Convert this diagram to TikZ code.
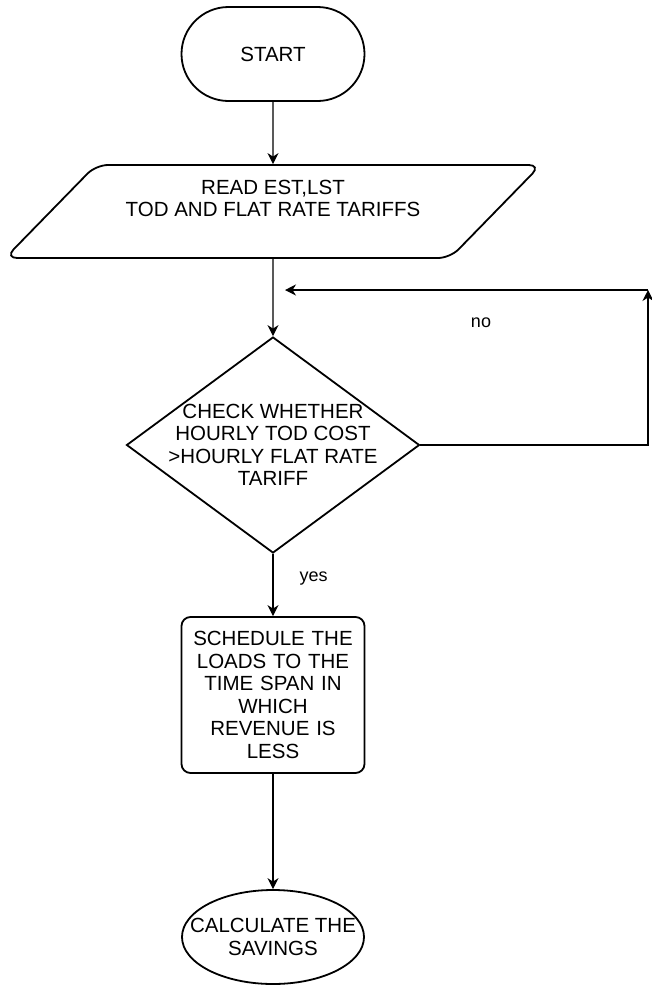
\documentclass[tikz,border=0pt]{standalone}
\usepackage{fontspec}
\setmainfont{Liberation Sans}
\usetikzlibrary{shapes.geometric,arrows.meta}

\tikzset{
  txt/.style={font=\fontsize{20.5}{22.5}\selectfont, align=center, inner sep=0pt},
  box/.style={draw, line width=1.8pt, txt},
  terminal/.style={box, rounded corners=47pt, minimum width=183pt, minimum height=94pt},
  io/.style={box, trapezium, trapezium left angle=40, trapezium right angle=140,
    trapezium stretches=true, minimum width=536pt, minimum height=93pt, rounded corners=12pt},
  decision/.style={box, diamond, minimum width=293pt, minimum height=216pt},
  process/.style={box, rounded corners=9pt, minimum width=183pt, minimum height=156pt, text width=180pt},
  stopper/.style={box, ellipse, minimum width=182pt, minimum height=94pt},
  arr/.style={line width=1.2pt, -{Stealth[length=11pt,width=11pt,inset=3.5pt]}}
}

\begin{document}
\begin{tikzpicture}[x=1pt,y=-1pt]
\useasboundingbox (0,0) rectangle (652,986);
% flow chart boxes
\node[terminal] (start) at (273,54) {START};
\node[io] (read) at (273,211.5) {READ EST,LST\\TOD AND FLAT RATE TARIFFS\\[4pt]};
\node[decision, label={[txt, name=checktxt]center:CHECK WHETHER\\HOURLY TOD COST\\>HOURLY FLAT RATE\\TARIFF}] (check) at (273,445) {};
\node[process] (sched) at (273,695) {SCHEDULE THE\\LOADS TO THE\\TIME SPAN IN\\WHICH\\REVENUE IS\\LESS};
\node[stopper, label={[txt, name=calctxt]center:CALCULATE THE\\SAVINGS}] (calc) at (273,937) {};
% loop back for no
\coordinate (turnlow) at (648,445);
\coordinate (turnup) at (648,290);
\coordinate (loopend) at (285,290);
\draw[arr] (start) -- (read);
\draw[arr] (read) -- (check);
\draw[arr] (check) -- (sched) node[pos=0.4, right=26pt, txt, font=\fontsize{18}{20}\selectfont] (yes) {yes};
\draw[arr] (sched) -- (calc);
\draw[arr] (check.east) -- (turnlow) -- (turnup);
\draw[arr] (turnup) -- (loopend);
\node[txt, font=\fontsize{18}{20}\selectfont] (no) at (481,323) {no};
\end{tikzpicture}
\end{document}
